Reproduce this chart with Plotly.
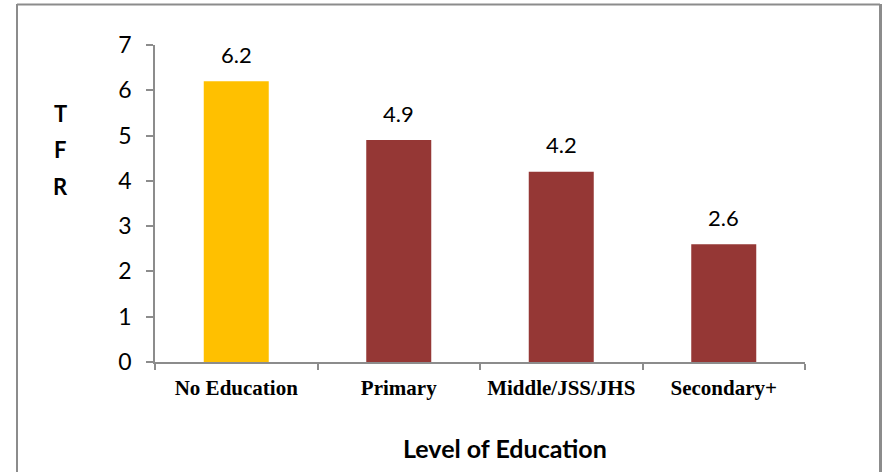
import plotly.graph_objects as go

categories = ["No Education", "Primary", "Middle/JSS/JHS", "Secondary+"]
tfr_values = [6.2, 4.9, 4.2, 2.6]
bar_colors = ["#FFC000", "#953735", "#953735", "#953735"]
y_ticks = [0, 1, 2, 3, 4, 5, 6, 7]
y_letters = ["T", "F", "R"]
y_letter_pos = [113, 149, 186]

L, R, T, B = 155, 79, 45, 110
W, H = 884, 472
pw, ph = W - L - R, H - T - B

def px(x):
    return (x - L) / pw

def py(y):
    return (H - B - y) / ph

fig = go.Figure(go.Bar(
    x=categories, y=tfr_values, marker=dict(color=bar_colors, line=dict(width=0)),
    width=0.4, cliponaxis=False,
))

for c, v in zip(categories, tfr_values):
    fig.add_annotation(x=c, y=v, text=f"{v:.1f}", showarrow=False, yshift=27,
                       font=dict(family="Lato, Open Sans, sans-serif", size=22, color="#000"))

fig.update_layout(
    width=W, height=H, margin=dict(l=L, r=R, t=T, b=B),
    paper_bgcolor="white", plot_bgcolor="white", showlegend=False,
    xaxis=dict(showline=True, linecolor="#8c8c8c", linewidth=1.5,
               ticks="outside", tickson="boundaries", ticklen=6, tickcolor="#8c8c8c",
               tickwidth=1.5, ticklabelstandoff=6,
               tickfont=dict(family="Liberation Serif, Times New Roman, serif", size=21,
                             color="#000", weight="bold"),
               showgrid=False),
    yaxis=dict(range=[0, 7], tickvals=y_ticks, showline=True, linecolor="#8c8c8c", linewidth=1.5,
               ticks="outside", ticklen=7, tickcolor="#8c8c8c", tickwidth=1.5,
               tickfont=dict(family="Lato, Open Sans, sans-serif", size=23, color="#000"),
               showgrid=False, zeroline=False, ticklabelstandoff=10),
    font=dict(family="Lato, Open Sans, sans-serif"),
)

for letter, yp in zip(y_letters, y_letter_pos):
    fig.add_annotation(text=f"<b>{letter}</b>", xref="paper", yref="paper",
                       x=px(60), y=py(yp), showarrow=False,
                       xanchor="center", yanchor="middle",
                       font=dict(family="Lato, Open Sans, sans-serif", size=22, color="#000"))

fig.add_annotation(text="<b>Level of Education</b>", xref="paper", yref="paper",
                   x=px(505), y=py(447.5), showarrow=False, xanchor="center", yanchor="middle",
                   font=dict(family="Lato, Open Sans, sans-serif", size=25, color="#000"))

border = dict(color="#8c8c8c", width=2)
fig.add_shape(type="line", xref="paper", yref="paper", x0=px(17), x1=px(880), y0=py(4.5), y1=py(4.5), line=border)
fig.add_shape(type="line", xref="paper", yref="paper", x0=px(17), x1=px(17), y0=py(4), y1=py(480), line=border)
fig.add_shape(type="line", xref="paper", yref="paper", x0=px(880.5), x1=px(880.5), y0=py(4), y1=py(480),
              line=dict(color="#8c8c8c", width=3))

fig.write_html("out.html", config={"displayModeBar": False},
               post_script="document.body.style.margin='0';")
